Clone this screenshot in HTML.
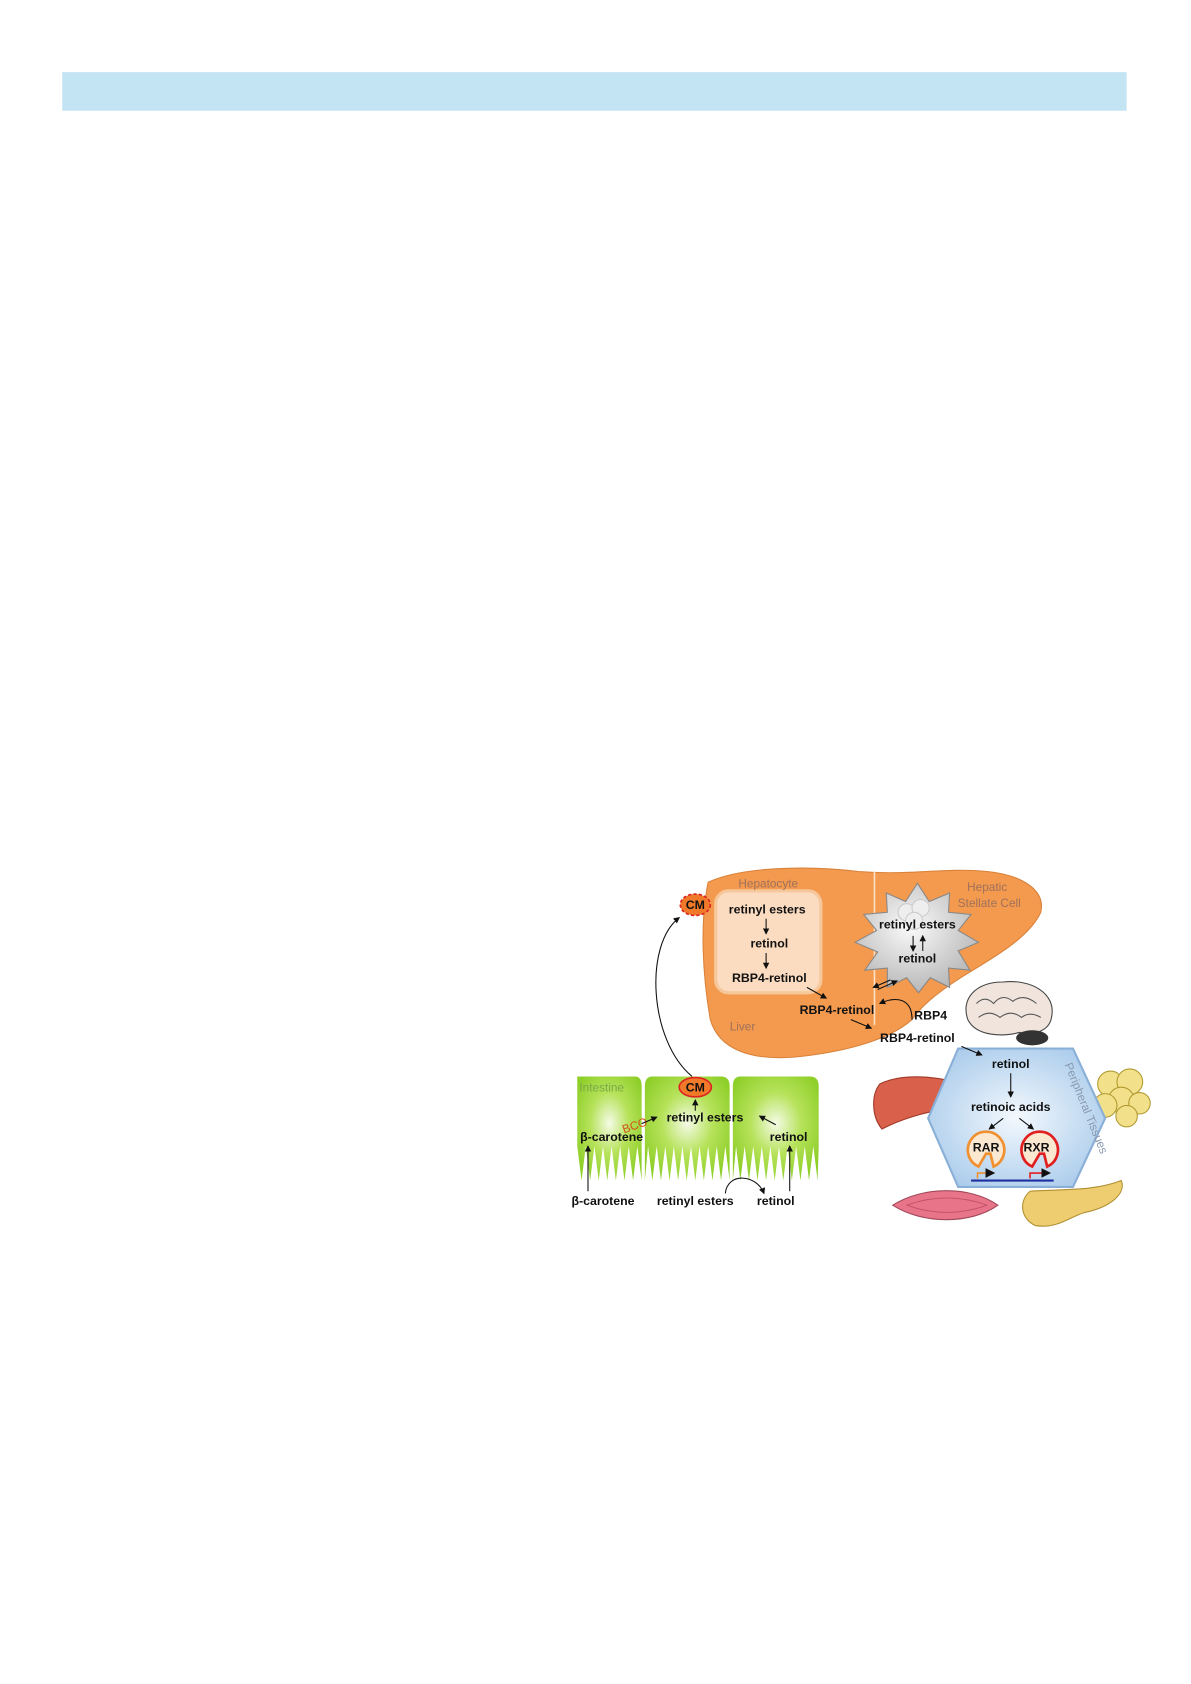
<!DOCTYPE html>
<html><head><meta charset="utf-8"><style>
html,body{margin:0;padding:0;background:#fff;width:1191px;height:1684px;overflow:hidden}
svg{display:block}
text{font-family:"Liberation Sans",Arial,sans-serif}
.b{font-weight:bold;font-size:11.5px;fill:#111}
.l{font-size:11px;fill:#a0705a}
</style></head><body>
<svg width="1191" height="1684" viewBox="0 0 1110 1569" xmlns="http://www.w3.org/2000/svg">
<defs>
<marker id="a" markerWidth="6" markerHeight="6" refX="5" refY="3" orient="auto"><path d="M0,0 L6,3 L0,6z" fill="#111"/></marker>
<radialGradient id="g" cx="50%" cy="45%" r="60%"><stop offset="0" stop-color="#f4fbe6"/><stop offset="0.5" stop-color="#b6e25a"/><stop offset="1" stop-color="#8fcf2a"/></radialGradient>
<radialGradient id="h" cx="50%" cy="50%" r="60%"><stop offset="0" stop-color="#f3f8fd"/><stop offset="1" stop-color="#a9cbeb"/></radialGradient>
<radialGradient id="s" cx="45%" cy="40%" r="60%"><stop offset="0" stop-color="#fafafa"/><stop offset="1" stop-color="#b8b8b8"/></radialGradient>
</defs>
<rect x="58" y="67" width="992" height="36" fill="#c3e4f3"/>

<!-- liver -->
<path d="M660,822 C690,808 750,806 800,812 C850,816 880,808 920,812 C950,815 975,828 970,850 C960,872 930,890 905,905 C880,920 860,935 850,950 C830,968 790,980 740,985 C700,988 670,978 662,950 C655,910 652,860 660,822z" fill="#f39a4f" stroke="#d9823a" stroke-width="1"/>
<line x1="815" y1="812" x2="815" y2="955" stroke="#fbe0c4" stroke-width="1.5"/>
<rect x="667" y="830" width="98" height="95" rx="12" fill="#fbdcc0" stroke="#f7c79c" stroke-width="3"/>
<polygon points="855,823 866,840 885,832 884,850 905,852 893,867 912,878 893,886 904,904 884,902 885,920 867,911 856,925 845,911 827,920 827,902 806,904 818,887 797,878 817,867 805,852 827,850 826,832 844,840" fill="url(#s)" stroke="#888" stroke-width="1"/>
<circle cx="845" cy="850" r="8" fill="#eee" stroke="#ccc"/><circle cx="858" cy="846" r="8" fill="#eee" stroke="#ccc"/><circle cx="852" cy="858" r="8" fill="#eee" stroke="#ccc"/>
<text x="716" y="827" class="l" text-anchor="middle">Hepatocyte</text>
<text x="920" y="830" class="l" text-anchor="middle">Hepatic</text>
<text x="922" y="845" class="l" text-anchor="middle">Stellate Cell</text>
<text x="692" y="960" class="l" text-anchor="middle">Liver</text>
<text x="715" y="851" class="b" text-anchor="middle">retinyl esters</text>
<text x="717" y="883" class="b" text-anchor="middle">retinol</text>
<text x="717" y="915" class="b" text-anchor="middle">RBP4-retinol</text>
<line x1="714" y1="856" x2="714" y2="870" stroke="#111" marker-end="url(#a)"/>
<line x1="714" y1="888" x2="714" y2="902" stroke="#111" marker-end="url(#a)"/>
<text x="855" y="865" class="b" text-anchor="middle">retinyl esters</text>
<text x="855" y="897" class="b" text-anchor="middle">retinol</text>
<line x1="851" y1="872" x2="851" y2="886" stroke="#111" marker-end="url(#a)"/>
<line x1="860" y1="886" x2="860" y2="872" stroke="#111" marker-end="url(#a)"/>
<text x="780" y="945" class="b" text-anchor="middle">RBP4-retinol</text>
<line x1="752" y1="920" x2="770" y2="930" stroke="#111" marker-end="url(#a)"/>
<line x1="830" y1="913" x2="814" y2="920" stroke="#111" marker-end="url(#a)"/>
<line x1="818" y1="922" x2="836" y2="914" stroke="#111" marker-end="url(#a)"/>
<path d="M850,950 C850,930 835,928 820,935" fill="none" stroke="#111" marker-end="url(#a)"/>
<text x="852" y="950" class="b">RBP4</text>
<text x="855" y="971" class="b" text-anchor="middle">RBP4-retinol</text>
<line x1="793" y1="950" x2="812" y2="958" stroke="#111" marker-end="url(#a)"/>

<!-- CM top -->
<ellipse cx="648" cy="843" rx="14" ry="10" fill="#f07a2a" stroke="#d22" stroke-width="1.5" stroke-dasharray="3,2"/>
<text x="648" y="847" class="b" text-anchor="middle" font-size="10">CM</text>
<path d="M645,1003 C605,970 600,880 633,855" fill="none" stroke="#111" marker-end="url(#a)"/>

<!-- intestine -->
<g fill="url(#g)">
<path d="M538,1003 H592 Q598,1003 598,1012 V1068 L598,1100 L594,1068 L590,1100 L586,1068 L582,1100 L578,1068 L574,1100 L570,1068 L566,1100 L562,1068 L558,1100 L554,1068 L550,1100 L546,1068 L542,1100 L538,1068z"/>
<path d="M608,1003 H672 Q680,1003 680,1012 V1068 L680,1100 L676,1068 L672,1100 L668,1068 L664,1100 L660,1068 L656,1100 L652,1068 L648,1100 L644,1068 L640,1100 L636,1068 L632,1100 L628,1068 L624,1100 L620,1068 L616,1100 L612,1068 L608,1100 L604,1068 L601,1100 V1012 Q601,1003 608,1003z"/>
<path d="M690,1003 H755 Q763,1003 763,1012 V1068 L762,1100 L758,1068 L754,1100 L750,1068 L746,1100 L742,1068 L738,1100 L734,1068 L730,1100 L726,1068 L722,1100 L718,1068 L714,1100 L710,1068 L706,1100 L702,1068 L698,1100 L694,1068 L690,1100 L686,1068 L683,1100 V1012 Q683,1003 690,1003z"/>
</g>
<text x="540" y="1017" class="l" style="fill:#7aa84a">Intestine</text>
<ellipse cx="648" cy="1013" rx="15" ry="9" fill="#f07a2a" stroke="#d22" stroke-width="1.5"/>
<text x="648" y="1017" class="b" text-anchor="middle" font-size="10">CM</text>
<line x1="648" y1="1035" x2="648" y2="1025" stroke="#111" marker-end="url(#a)"/>
<text x="657" y="1045" class="b" text-anchor="middle">retinyl esters</text>
<text x="570" y="1063" class="b" text-anchor="middle">β-carotene</text>
<text x="735" y="1063" class="b" text-anchor="middle">retinol</text>
<text x="580" y="1053" font-size="11" fill="#d2501a" transform="rotate(-20 590 1050)">BCO</text>
<line x1="598" y1="1047" x2="612" y2="1041" stroke="#111" marker-end="url(#a)"/>
<line x1="723" y1="1048" x2="708" y2="1040" stroke="#111" marker-end="url(#a)"/>
<line x1="548" y1="1110" x2="548" y2="1068" stroke="#111" marker-end="url(#a)"/>
<line x1="736" y1="1110" x2="736" y2="1068" stroke="#111" marker-end="url(#a)"/>
<path d="M676,1112 C678,1092 705,1094 712,1112" fill="none" stroke="#111" marker-end="url(#a)"/>
<text x="562" y="1123" class="b" text-anchor="middle">β-carotene</text>
<text x="648" y="1123" class="b" text-anchor="middle">retinyl esters</text>
<text x="723" y="1123" class="b" text-anchor="middle">retinol</text>

<!-- peripheral organs -->
<path d="M820,1010 C840,1000 870,1003 890,1008 L895,1030 C870,1035 845,1040 822,1052 C812,1040 812,1020 820,1010z" fill="#d9604a" stroke="#a03828"/>
<g fill="#f3e08a" stroke="#b09a30"><circle cx="1035" cy="1010" r="12"/><circle cx="1053" cy="1008" r="12"/><circle cx="1045" cy="1025" r="12"/><circle cx="1062" cy="1028" r="10"/><circle cx="1030" cy="1030" r="11"/><circle cx="1050" cy="1040" r="10"/></g>
<path d="M960,1110 C990,1108 1020,1110 1045,1100 C1050,1112 1035,1125 1010,1130 C995,1135 985,1145 965,1142 C950,1135 950,1118 960,1110z" fill="#edcd70" stroke="#b09030"/>
<polygon points="893,977 1000,977 1030,1042 1000,1106 893,1106 865,1042" fill="url(#h)" stroke="#8ab0d8" stroke-width="2"/>
<path d="M832,1123 C860,1105 905,1105 930,1123 C905,1141 860,1141 832,1123z" fill="#e8748a" stroke="#a04858"/>
<path d="M845,1123 C870,1114 895,1114 920,1123 M845,1123 C870,1132 895,1132 920,1123" fill="none" stroke="#c05068" stroke-width="0.8"/>
<path d="M902,950 C895,930 910,915 935,915 C960,912 985,925 980,948 C978,960 965,965 950,962 C935,966 910,966 902,950z" fill="#f0e4dc" stroke="#444"/>
<path d="M910,935 q8,-8 16,0 q8,-10 18,-2 q10,-8 22,2 M912,948 q10,-8 20,0 q10,-8 20,0 q8,-6 18,0" fill="none" stroke="#555"/>
<ellipse cx="962" cy="967" rx="15" ry="7" fill="#333"/>
<line x1="896" y1="975" x2="915" y2="983" stroke="#111" marker-end="url(#a)"/>
<text x="942" y="995" class="b" text-anchor="middle">retinol</text>
<line x1="942" y1="1000" x2="942" y2="1022" stroke="#111" marker-end="url(#a)"/>
<text x="942" y="1035" class="b" text-anchor="middle">retinoic acids</text>
<line x1="935" y1="1042" x2="922" y2="1052" stroke="#111" marker-end="url(#a)"/>
<line x1="950" y1="1042" x2="963" y2="1052" stroke="#111" marker-end="url(#a)"/>
<path d="M912,1087 a17,17 0 1 1 14,0 l-3,-12 l-4,0z" fill="#fbe8d0" stroke="#f09030" stroke-width="2.5"/>
<path d="M962,1087 a17,17 0 1 1 14,0 l-3,-12 l-4,0z" fill="#fbe8d0" stroke="#e02020" stroke-width="2.5"/>
<text x="919" y="1073" class="b" text-anchor="middle">RAR</text>
<text x="966" y="1073" class="b" text-anchor="middle">RXR</text>
<line x1="905" y1="1100" x2="982" y2="1100" stroke="#2030a0" stroke-width="2"/>
<path d="M911,1098 v-5 h15" fill="none" stroke="#f09030" stroke-width="1.5" marker-end="url(#a)"/>
<path d="M960,1098 v-5 h18" fill="none" stroke="#e02020" stroke-width="1.5" marker-end="url(#a)"/>
<text x="992" y="992" font-size="11" fill="#8a9ab0" transform="rotate(68 992 992)">Peripheral Tissues</text>
</svg>
</body></html>
